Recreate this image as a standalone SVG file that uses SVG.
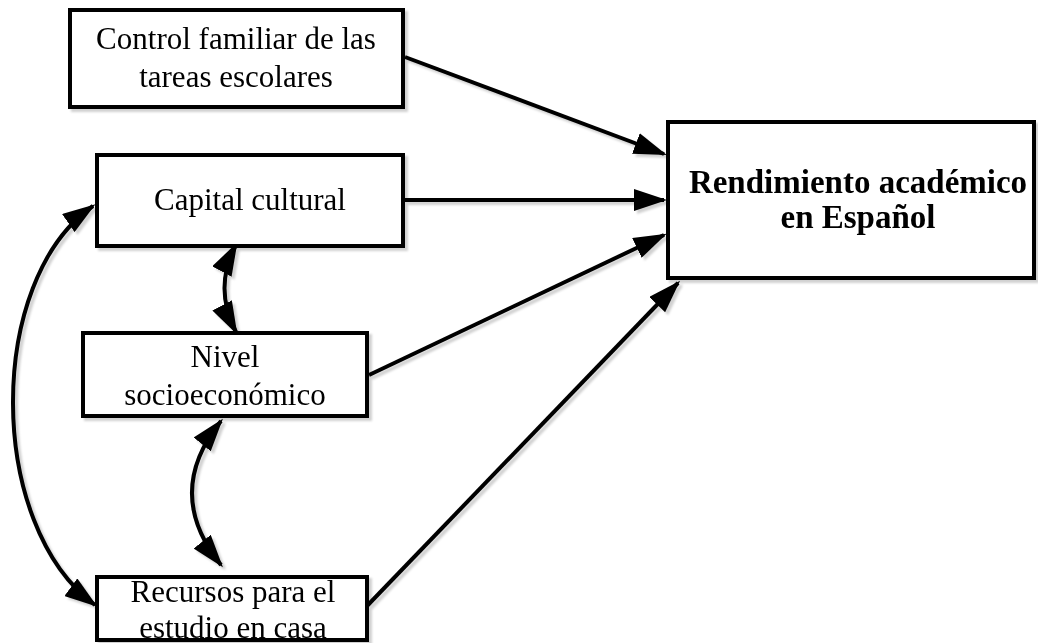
<svg xmlns="http://www.w3.org/2000/svg" width="1038" height="643" viewBox="0 0 1038 643">
  <style>
    .box { fill: #ffffff; stroke: #000000; stroke-width: 4; }
    .lbl { font-family: "Liberation Serif", "Times New Roman", serif; font-size: 31px; fill: #000000; text-anchor: middle; }
    .lblb { font-family: "Liberation Serif", "Times New Roman", serif; font-size: 33px; font-weight: bold; fill: #000000; text-anchor: middle; }
    .edge { fill: none; stroke: #000000; stroke-width: 4; }
  </style>
  <defs>
    <filter id="sh" x="-5%" y="-5%" width="110%" height="110%">
      <feDropShadow dx="3" dy="3" stdDeviation="1" flood-color="#000000" flood-opacity="0.18"/>
    </filter>
    <marker id="ah" markerUnits="userSpaceOnUse" viewBox="0 0 33 22" markerWidth="33" markerHeight="22" refX="30" refY="11" orient="auto-start-reverse">
      <path d="M0,0 L33,11 L0,22 z" fill="#000000"/>
    </marker>
  </defs>
  <rect width="1038" height="643" fill="#ffffff"/>
  <g filter="url(#sh)">
    <g id="connectors">
      <path class="edge" d="M405,57 L664,154" marker-end="url(#ah)"/>
      <path class="edge" d="M405,200 L664,200" marker-end="url(#ah)"/>
      <path class="edge" d="M369,375 L664,235" marker-end="url(#ah)"/>
      <path class="edge" d="M366,607 L678,283" marker-end="url(#ah)"/>
      <path class="edge" d="M236,245 Q213,288 236,332" marker-start="url(#ah)" marker-end="url(#ah)"/>
      <path class="edge" d="M221,421 Q163,493 221,565" marker-start="url(#ah)" marker-end="url(#ah)"/>
      <path class="edge" d="M93,206 C-14,280 -14,525 95,605" marker-start="url(#ah)" marker-end="url(#ah)"/>
    </g>
    <g id="node-control">
      <rect class="box" x="70" y="10" width="333" height="97"/>
      <text class="lbl" x="236" y="49">Control familiar de las</text>
      <text class="lbl" x="236" y="87">tareas escolares</text>
    </g>
    <g id="node-capital">
      <rect class="box" x="97" y="155" width="306" height="91"/>
      <text class="lbl" x="250" y="210">Capital cultural</text>
    </g>
    <g id="node-nivel">
      <rect class="box" x="83" y="333" width="284" height="83"/>
      <text class="lbl" x="225" y="367">Nivel</text>
      <text class="lbl" x="225" y="405">socioeconómico</text>
    </g>
    <g id="node-recursos">
      <rect class="box" x="97" y="577" width="270" height="63"/>
      <text class="lbl" x="233" y="602">Recursos para el</text>
      <text class="lbl" x="233" y="638">estudio en casa</text>
    </g>
    <g id="node-rendimiento">
      <rect class="box" x="668" y="122" width="366" height="156"/>
      <text class="lblb" x="858" y="193">Rendimiento académico</text>
      <text class="lblb" x="858" y="228">en Español</text>
    </g>
  </g>
</svg>
